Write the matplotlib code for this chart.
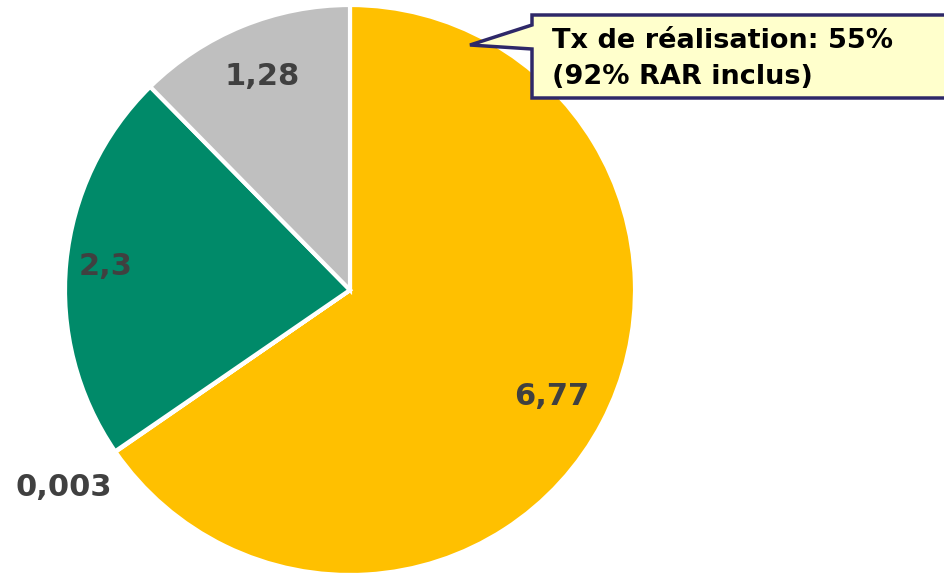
import numpy as np
import matplotlib.pyplot as plt
from matplotlib.patches import Polygon

# slice values, clockwise from the top
values = [6.77, 0.003, 2.3, 1.28]
labels = ['6,77', '0,003', '2,3', '1,28']
colors = ['#FFC000', '#FFC000', '#008A69', '#BFBFBF']
label_dist = [0.80, 1.22, 0.86, 0.81]
callout = 'Tx de réalisation: 55%\n(92% RAR inclus)'

fig = plt.figure(figsize=(9.45, 5.75), dpi=100)
ax = fig.add_axes([0, 0, 1, 1])

cx, cy, r = 350, 285, 285
wedges, _ = ax.pie(values, colors=colors, startangle=90, counterclock=False,
                   center=(cx, cy), radius=r,
                   wedgeprops=dict(edgecolor='white', linewidth=3))

#labels in the wedges (one outside for the tiny slice)
for w, lab, d in zip(wedges, labels, label_dist):
    ang = np.deg2rad((w.theta1 + w.theta2) / 2)
    ax.text(cx + d * r * np.cos(ang), cy + d * r * np.sin(ang), lab,
            ha='center', va='center', fontsize=22, fontweight='bold', color='#404040')

# callout box with its pointer
H = 575
box = [(532, H - 15), (960, H - 15), (960, H - 98), (532, H - 98),
       (532, H - 49), (470, H - 45), (532, H - 25)]
ax.add_patch(Polygon(box, closed=True, facecolor='#FFFFCC', edgecolor='#2E2868',
                     linewidth=2.5, joinstyle='miter', zorder=5))
ax.text(552, H - 59, callout, ha='left', va='center', fontsize=19.5,
        fontweight='bold', color='black', linespacing=1.5, zorder=6)

ax.set_xlim(0, 945)
ax.set_ylim(0, 575)
ax.set_aspect('equal')
ax.axis('off')
fig.savefig('out.png', dpi=100)
